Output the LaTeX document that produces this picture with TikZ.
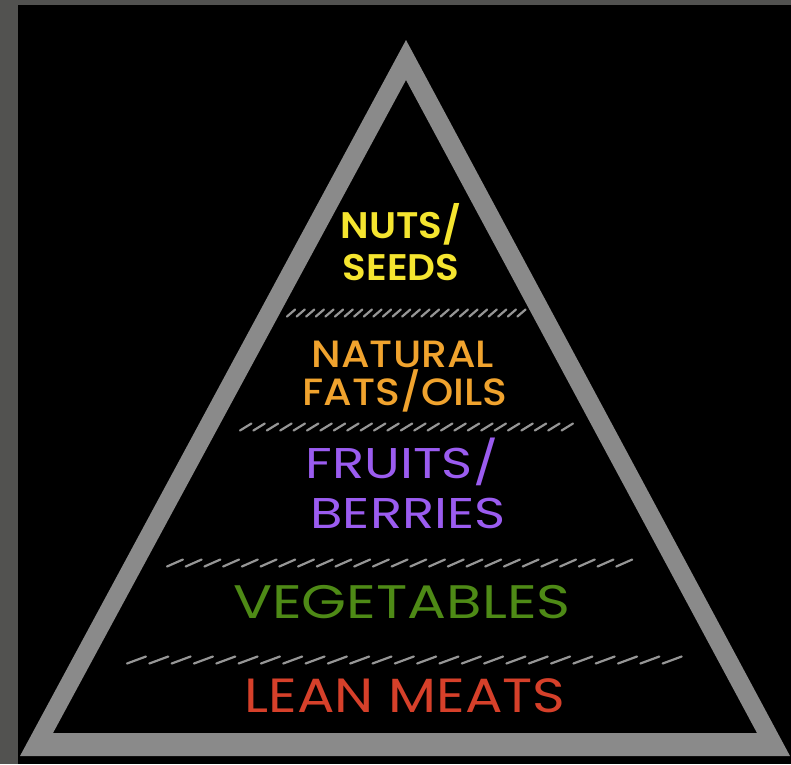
\documentclass[tikz,border=0pt]{standalone}
\usepackage{fontspec}
\setmainfont{Poppins}
\newfontfamily\popsemi[FakeStretch=1.05]{Poppins SemiBold}
\newfontfamily\popmed[FakeStretch=1.08]{Poppins Medium}
\newfontfamily\popwide[FakeStretch=1.23]{Poppins}
\newfontfamily\popmeat[FakeStretch=1.16]{Poppins}
\definecolor{FrameGray}{RGB}{82,82,80}
\definecolor{PyrGray}{RGB}{138,138,138}
\definecolor{HatchGray}{RGB}{150,150,150}
\definecolor{NutYellow}{RGB}{245,229,47}
\definecolor{FatOrange}{RGB}{240,163,46}
\definecolor{BerryPurple}{RGB}{155,92,240}
\definecolor{VegGreen}{RGB}{78,138,22}
\definecolor{MeatRed}{RGB}{214,64,42}
\usepackage{tikz}

\begin{document}
\begin{tikzpicture}[
          x=1pt, y=-1pt,
          level/.style={inner sep=0pt, anchor=base},
          hatch/.style={draw=HatchGray, line width=2.2pt, line cap=round}
        ]
        \useasboundingbox (0,0) rectangle (791,764);
        % frame and background
        \fill[FrameGray] (0,0) rectangle (791,764);
        \fill[black] (18,5) rectangle (791,764);
        % pyramid outline
        \fill[PyrGray, even odd rule]
          (406,40) -- (790,756) -- (20,756) -- cycle
          (406,80) -- (757,733) -- (53,733) -- cycle;
        % separators
        \foreach \y/\xa/\xb in {313/287/527, 427/240/575, 563/167/635, 660/127/685}{
          \pgfmathsetmacro{\s}{(\xb-\xa)/25}
          \foreach \i in {0,...,24}{
            \draw[hatch] ({\xa+\i*\s},{\y+3.5}) -- ++({0.85*\s},-7);
          }
        }
        % levels
        \node[level, NutYellow, font=\popsemi\fontsize{37}{37}\selectfont] (nuts) at (401,238) {NUTS/};
        \node[level, NutYellow, font=\popsemi\fontsize{37}{37}\selectfont] (seeds) at (401,280) {SEEDS};
        \node[level, FatOrange, font=\popmed\fontsize{38}{38}\selectfont] (natural) at (403,367) {NATURAL};
        \node[level, FatOrange, font=\popmed\fontsize{38}{38}\selectfont] (fats) at (405,405) {FATS/OILS};
        \node[level, BerryPurple, font=\popwide\fontsize{43}{43}\selectfont] (fruits) at (402,478) {FRUITS/};
        \node[level, BerryPurple, font=\popwide\fontsize{43}{43}\selectfont] (berries) at (408,528) {BERRIES};
        \node[level, VegGreen, font=\popwide\fontsize{47}{47}\selectfont] (veg) at (402,618) {VEGETABLES};
        \node[level, MeatRed, font=\popmeat\fontsize{48}{48}\selectfont] (meats) at (405,712) {LEAN MEATS};
      \end{tikzpicture}
\end{document}
